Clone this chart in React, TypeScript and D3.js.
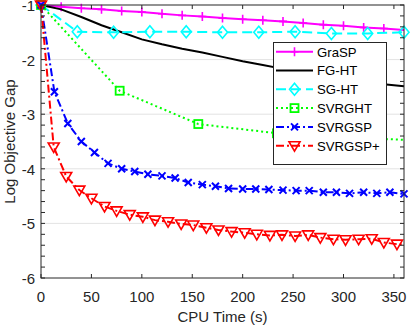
import * as d3 from "d3";
import { useEffect, useRef } from "react";

// CPU time (s) and log objective gap per method
const graspT = [0, 20, 40, 60, 80, 100, 120, 140, 160, 180, 200, 220, 240, 260, 280, 300, 320, 340, 360];
const graspV = [-1, -1.03, -1.06, -1.08, -1.11, -1.13, -1.16, -1.19, -1.21, -1.24, -1.26, -1.28, -1.3, -1.33, -1.36, -1.38, -1.41, -1.43, -1.46];

const fghtT = [0, 20, 40, 60, 80, 100, 120, 140, 160, 180, 200, 220, 240, 260, 280, 300, 320, 340, 360];
const fghtV = [-1, -1.08, -1.22, -1.37, -1.5, -1.63, -1.72, -1.8, -1.87, -1.95, -2.03, -2.1, -2.17, -2.24, -2.3, -2.35, -2.4, -2.45, -2.49];

const sghtT = [0, 36, 72, 108, 144, 180, 216, 252, 288, 324, 360];
const sghtV = [-1, -1.49, -1.5, -1.49, -1.49, -1.5, -1.5, -1.49, -1.52, -1.52, -1.5];

const svrghtT = [0, 78, 156, 234, 312, 360];
const svrghtV = [-1, -2.57, -3.18, -3.35, -3.43, -3.47];

const svrgspT = [0, 13.3, 26.6, 40, 53, 66.5, 80, 93, 106, 120, 133, 146, 160, 173, 186, 200, 213, 226, 240, 253, 266, 280, 293, 306, 320, 333, 346, 360];
const svrgspV = [-1, -2.59, -3.17, -3.5, -3.7, -3.9, -4.0, -4.05, -4.1, -4.13, -4.17, -4.25, -4.29, -4.32, -4.36, -4.37, -4.37, -4.38, -4.39, -4.4, -4.4, -4.43, -4.43, -4.45, -4.43, -4.45, -4.43, -4.46];

const plusT = [0, 12.6, 25, 38, 50, 63, 75, 88, 101, 113, 126, 139, 151, 164, 176, 189, 202, 214, 227, 239, 252, 265, 277, 290, 302, 315, 328, 340, 353, 360];
const plusV = [-1, -3.6, -4.14, -4.39, -4.54, -4.69, -4.77, -4.84, -4.88, -4.94, -4.97, -5.01, -5.03, -5.08, -5.12, -5.15, -5.17, -5.2, -5.22, -5.21, -5.23, -5.21, -5.26, -5.29, -5.3, -5.29, -5.28, -5.35, -5.38, -5.39];

const seriesNames = ["GraSP", "FG-HT", "SG-HT", "SVRGHT", "SVRGSP", "SVRGSP+"];
const xTicks = [0, 50, 100, 150, 200, 250, 300, 350];
const yTicks = [-6, -5, -4, -3, -2, -1];

// nMarks: how many leading points carry a marker
const styles = [
  { t: graspT, v: graspV, color: "#ff00ff", dash: "", marker: "plus", nMarks: 18 },
  { t: fghtT, v: fghtV, color: "#000000", dash: "", marker: "none", nMarks: 0 },
  { t: sghtT, v: sghtV, color: "#00ffff", dash: "10,5", marker: "diamond", nMarks: 11 },
  { t: svrghtT, v: svrghtV, color: "#00ff00", dash: "2,3", marker: "square", nMarks: 5 },
  { t: svrgspT, v: svrgspV, color: "#0000ff", dash: "8,3,2,3", marker: "x", nMarks: 28 },
  { t: plusT, v: plusV, color: "#ff0000", dash: "8,3,2,3", marker: "tri", nMarks: 29 },
];

function drawMarker(g, kind, color) {
  if (kind === "plus") {
    g.append("path").attr("d", "M-4,0H4M0,-4.5V4.5").attr("stroke", color).attr("stroke-width", 1.6).attr("fill", "none");
  } else if (kind === "diamond") {
    g.append("path").attr("d", "M0,-6L5,0L0,6L-5,0Z").attr("stroke", color).attr("stroke-width", 1.6).attr("fill", "none");
  } else if (kind === "square") {
    g.append("rect").attr("x", -4).attr("y", -4).attr("width", 8).attr("height", 8).attr("stroke", color).attr("stroke-width", 1.8).attr("fill", "none");
  } else if (kind === "x") {
    g.append("path").attr("d", "M-3.5,-3.5L3.5,3.5M-3.5,3.5L3.5,-3.5").attr("stroke", color).attr("stroke-width", 2).attr("fill", "none");
  } else if (kind === "tri") {
    g.append("path").attr("d", "M-5.5,-4L5.5,-4L0,5.5Z").attr("stroke", color).attr("stroke-width", 1.6).attr("fill", "none");
  }
}

export default function App() {
  const ref = useRef(null);

  useEffect(() => {
    const svg = d3.select(ref.current);
    svg.selectAll("*").remove();

    const left = 41, right = 404, top = 5, bottom = 278;
    const axisColor = "#262626";
    const font = "'Liberation Sans', Arial, sans-serif";

    const x = d3.scaleLinear().domain([0, 360]).range([left, right]);
    const y = d3.scaleLinear().domain([-6, -1]).range([bottom, top]);

    svg.append("rect").attr("x", left).attr("y", top).attr("width", right - left).attr("height", bottom - top).attr("fill", "#fff");

    // horizontal grid
    svg.append("g")
      .selectAll("line")
      .data(yTicks.filter((d) => d > -6 && d < -1))
      .join("line")
      .attr("x1", left).attr("x2", right)
      .attr("y1", (d) => y(d)).attr("y2", (d) => y(d))
      .attr("stroke", "#e3e3e3").attr("stroke-width", 1);

    // series
    const line = d3.line().x((d) => x(d[0])).y((d) => y(d[1]));
    styles.forEach((s) => {
      const pts = s.t.map((t, i) => [t, s.v[i]]);
      svg.append("path")
        .datum(pts)
        .attr("d", line)
        .attr("fill", "none")
        .attr("stroke", s.color)
        .attr("stroke-width", 2)
        .attr("stroke-dasharray", s.dash || null);
      pts.slice(0, s.nMarks).forEach((p) => {
        const g = svg.append("g").attr("transform", `translate(${x(p[0])},${y(p[1])})`);
        drawMarker(g, s.marker, s.color);
      });
    });

    // axes box
    const ax = svg.append("g").attr("stroke", axisColor).attr("stroke-width", 1).attr("fill", "none");
    ax.append("rect").attr("x", left).attr("y", top).attr("width", right - left).attr("height", bottom - top);
    xTicks.forEach((t) => {
      ax.append("line").attr("x1", x(t)).attr("x2", x(t)).attr("y1", bottom).attr("y2", bottom - 4);
      ax.append("line").attr("x1", x(t)).attr("x2", x(t)).attr("y1", top).attr("y2", top + 4);
    });
    d3.range(-6, -0.99, 0.2).forEach((t) => {
      ax.append("line").attr("x1", left).attr("x2", left + 4).attr("y1", y(t)).attr("y2", y(t));
      ax.append("line").attr("x1", right).attr("x2", right - 4).attr("y1", y(t)).attr("y2", y(t));
    });

    // tick labels
    svg.append("g")
      .selectAll("text")
      .data(xTicks)
      .join("text")
      .attr("x", (d) => x(d)).attr("y", 302)
      .attr("text-anchor", "middle")
      .attr("font-family", font).attr("font-size", 15).attr("fill", axisColor)
      .text((d) => String(d));
    svg.append("g")
      .selectAll("text")
      .data(yTicks)
      .join("text")
      .attr("x", 35).attr("y", (d) => y(d) + 6)
      .attr("text-anchor", "end")
      .attr("font-family", font).attr("font-size", 15).attr("fill", axisColor)
      .text((d) => String(d));

    svg.append("text")
      .attr("x", (left + right) / 2).attr("y", 322)
      .attr("text-anchor", "middle")
      .attr("font-family", font).attr("font-size", 15).attr("fill", axisColor)
      .text("CPU Time (s)");
    svg.append("text")
      .attr("transform", `translate(15,${(top + bottom) / 2}) rotate(-90)`)
      .attr("text-anchor", "middle")
      .attr("font-family", font).attr("font-size", 15).attr("fill", axisColor)
      .text("Log Objective Gap");

    // legend
    const lg = svg.append("g");
    lg.append("rect").attr("x", 273.5).attr("y", 42.5).attr("width", 113).attr("height", 122)
      .attr("fill", "#fff").attr("stroke", axisColor).attr("stroke-width", 1);
    styles.forEach((s, i) => {
      const cy = 51.7 + i * 18.8;
      lg.append("line").attr("x1", 276).attr("x2", 313).attr("y1", cy).attr("y2", cy)
        .attr("stroke", s.color).attr("stroke-width", 2).attr("stroke-dasharray", s.dash || null);
      if (s.marker !== "none") drawMarker(lg.append("g").attr("transform", `translate(294.5,${cy})`), s.marker, s.color);
      lg.append("text").attr("x", 317).attr("y", cy + 4.8)
        .attr("font-family", font).attr("font-size", 13.2).attr("fill", "#000")
        .text(seriesNames[i]);
    });
  }, []);

  return (
    <svg ref={ref} width={412} height={326} style={{ position: "absolute", left: 0, top: 0 }}></svg>
  );
}
